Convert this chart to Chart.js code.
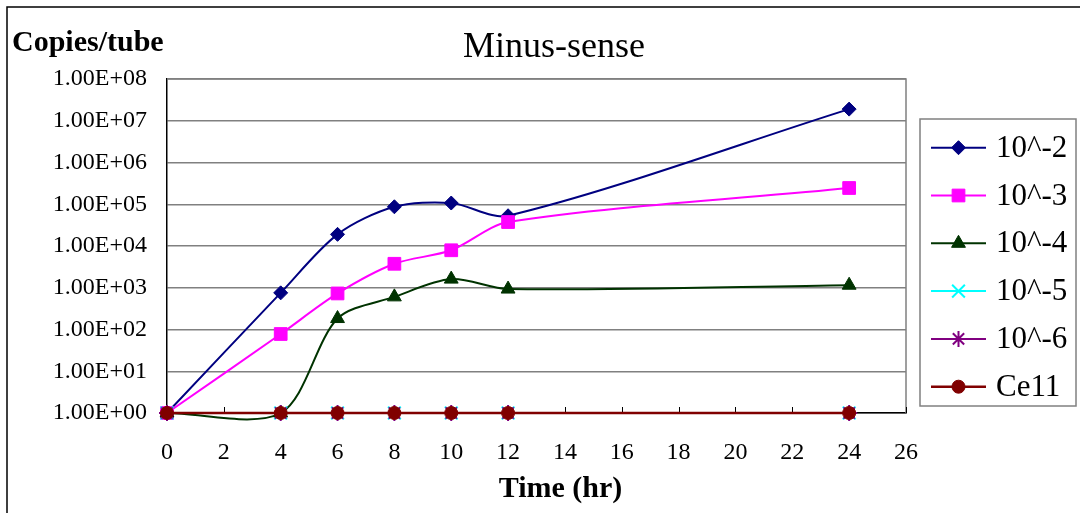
<!DOCTYPE html>
<html>
<head>
<meta charset="utf-8">
<title>Minus-sense</title>
<script src="https://cdn.jsdelivr.net/npm/chart.js@4.4.1/dist/chart.umd.min.js"></script>
<style>
  html, body { margin: 0; padding: 0; background: #fff; }
  #wrap { width: 1080px; height: 513px; position: relative; }
</style>
</head>
<body>
<div id="wrap"><canvas id="chart" width="1080" height="513"></canvas></div>
<script>
// Data (copies/tube vs time in hours).
const hours = [0, 4, 6, 8, 10, 12, 24];
const dil2 = [1, 755, 19000, 87000, 107000, 53000, 19000000];
const dil3 = [1, 78, 730, 3750, 7900, 37500, 245000];
const dil4 = [1, 1, 183, 605, 1610, 930, 1150];
const dil5 = [1, 1, 1, 1, 1, 1, 1];
const dil6 = [1, 1, 1, 1, 1, 1, 1];
const cell = [1, 1, 1, 1, 1, 1, 1];

const seriesNames = ['10^-2', '10^-3', '10^-4', '10^-5', '10^-6', 'Ce11'];
const yTicks = [1, 10, 100, 1000, 10000, 100000, 1000000, 10000000, 100000000];

const FONT = "'Liberation Serif', 'Times New Roman', serif";
const GRID_COLOR = '#808080';

function toPoints(values) {
  return hours.map((h, i) => ({ x: h, y: values[i] }));
}

function series(label, values, color, pointStyle, radius, order, width = 2) {
  return {
    label,
    data: toPoints(values),
    borderColor: color,
    backgroundColor: color,
    pointBackgroundColor: color,
    pointBorderColor: color,
    pointStyle,
    pointRadius: radius,
    pointHoverRadius: radius,
    pointBorderWidth: pointStyle === 'crossRot' || pointStyle === 'star' ? 2 : 1,
    borderWidth: width,
    tension: 0.3,
    clip: 12,
    order,
  };
}

const datasets = [
  series(seriesNames[0], dil2, '#000080', 'rectRot', 7, 5),
  series(seriesNames[1], dil3, '#FF00FF', 'rect', 9, 4),
  series(seriesNames[2], dil4, '#003300', 'triangle', 8, 3),
  series(seriesNames[3], dil5, '#00FFFF', 'crossRot', 9, 2),
  series(seriesNames[4], dil6, '#800080', 'star', 8, 1),
  series(seriesNames[5], cell, '#800000', 'circle', 6.5, 0, 2.5),
];

// Frame, plot border, inward x ticks, titles and the Excel-style legend.
const decorations = {
  id: 'decorations',
  beforeDatasetsDraw(chart) {
    const { ctx, chartArea: a } = chart;
    ctx.save();
    ctx.strokeStyle = GRID_COLOR;
    ctx.lineWidth = 1.5;
    ctx.beginPath();
    ctx.moveTo(a.left, a.top);
    ctx.lineTo(a.right, a.top);
    ctx.lineTo(a.right, a.bottom);
    ctx.stroke();

    const xs = chart.scales.x;
    ctx.strokeStyle = '#000';
    ctx.lineWidth = 1;
    ctx.beginPath();
    xs.ticks.forEach((t, i) => {
      const px = Math.round(xs.getPixelForTick(i)) + 0.5;
      ctx.moveTo(px, a.bottom);
      ctx.lineTo(px, a.bottom - 6);
    });
    ctx.stroke();
    ctx.restore();
  },
  afterDraw(chart) {
    const { ctx, chartArea: a } = chart;
    ctx.save();

    // outer frame (left + top visible)
    ctx.strokeStyle = '#000';
    ctx.lineWidth = 1.5;
    ctx.beginPath();
    ctx.moveTo(7, 513);
    ctx.lineTo(7, 7);
    ctx.lineTo(1080, 7);
    ctx.stroke();

    ctx.fillStyle = '#000';
    ctx.textBaseline = 'alphabetic';

    ctx.font = `36px ${FONT}`;
    ctx.textAlign = 'center';
    ctx.fillText('Minus-sense', 554, 57);

    ctx.font = `bold 30px ${FONT}`;
    ctx.textAlign = 'left';
    ctx.fillText('Copies/tube', 12, 51);

    ctx.textAlign = 'center';
    ctx.fillText('Time (hr)', (a.left + a.right) / 2 + 24, 497);

    // legend
    const box = { left: a.right + 14, top: 119, width: 156, height: 287 };
    ctx.strokeStyle = GRID_COLOR;
    ctx.lineWidth = 1.5;
    ctx.fillStyle = '#fff';
    ctx.fillRect(box.left, box.top, box.width, box.height);
    ctx.strokeRect(box.left, box.top, box.width, box.height);

    chart.data.datasets.forEach((ds, i) => {
      const y = box.top + 28.7 + i * 47.8;
      const x0 = box.left + 11;
      const x1 = box.left + 66;
      ctx.strokeStyle = ds.borderColor;
      ctx.lineWidth = ds.borderWidth;
      ctx.beginPath();
      ctx.moveTo(x0, y);
      ctx.lineTo(x1, y);
      ctx.stroke();
      ctx.fillStyle = ds.pointBackgroundColor;
      ctx.strokeStyle = ds.pointBorderColor;
      ctx.lineWidth = ds.pointBorderWidth;
      Chart.helpers.drawPoint(ctx, {
        pointStyle: ds.pointStyle,
        radius: ds.pointRadius,
        rotation: 0,
        borderWidth: ds.pointBorderWidth,
      }, (x0 + x1) / 2, y);

      ctx.fillStyle = '#000';
      ctx.font = `31px ${FONT}`;
      ctx.textAlign = 'left';
      ctx.textBaseline = 'middle';
      ctx.fillText(ds.label, box.left + 76, y + 1);
    });
    ctx.restore();
  },
};

new Chart(document.getElementById('chart'), {
  type: 'line',
  data: { datasets },
  options: {
    responsive: false,
    animation: false,
    events: [],
    layout: { padding: { top: 79, right: 174, left: 0, bottom: 0 } },
    elements: { line: { capBezierPoints: false } },
    plugins: {
      legend: { display: false },
      title: { display: false },
      tooltip: { enabled: false },
    },
    scales: {
      x: {
        type: 'linear',
        min: 0,
        max: 26,
        afterFit: (s) => { s.height = 100; },
        grid: { display: false, drawTicks: false },
        border: { color: '#000', width: 1.5 },
        ticks: {
          stepSize: 2,
          color: '#000',
          padding: 25,
          font: { family: FONT, size: 24 },
        },
      },
      y: {
        type: 'logarithmic',
        min: 1,
        max: 100000000,
        afterFit: (s) => { s.width = 167; },
        afterBuildTicks: (s) => { s.ticks = yTicks.map((v) => ({ value: v, major: true })); },
        grid: { color: GRID_COLOR, lineWidth: 1.5, drawTicks: false },
        border: { color: '#000', width: 1.5 },
        ticks: {
          color: '#000',
          padding: 20,
          font: { family: FONT, size: 24 },
          callback: (v) => '1.00E+' + String(Math.round(Math.log10(v))).padStart(2, '0'),
        },
      },
    },
  },
  plugins: [decorations],
});
</script>
</body>
</html>
